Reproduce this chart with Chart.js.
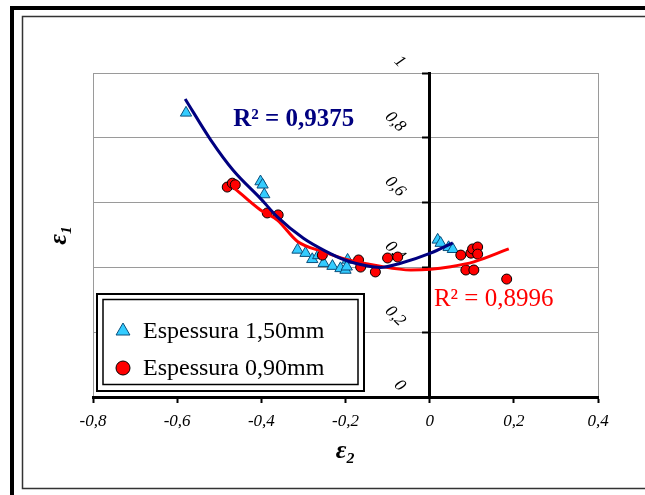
<!DOCTYPE html>
<html>
<head>
<meta charset="utf-8">
<script src="https://cdn.jsdelivr.net/npm/chart.js@4.4.1/dist/chart.umd.min.js"></script>
<style>
  html, body { margin: 0; padding: 0; background: #fff; }
  canvas { display: block; }
</style>
</head>
<body>
<canvas id="c" width="645" height="495"></canvas>
<script>
// Strain measurements: minor strain (ε2) and major strain (ε1) per sheet thickness
const e2Thick150 = [-0.579, -0.402, -0.397, -0.393, -0.314, -0.295, -0.279, -0.265, -0.252, -0.231, -0.212, -0.200, -0.195, -0.197, 0.019, 0.026, 0.045, 0.055];
const e1Thick150 = [ 0.877,  0.665,  0.655,  0.625,  0.454,  0.444,  0.425,  0.437,  0.413,  0.404,  0.397,  0.392,  0.423,  0.402, 0.485, 0.475, 0.462, 0.456];

const e2Thick090 = [-0.481, -0.469, -0.462, -0.386, -0.360, -0.255, -0.169, -0.164, -0.129, -0.100, -0.076, 0.074, 0.098, 0.102, 0.114, 0.114, 0.086, 0.105, 0.183];
const e1Thick090 = [ 0.648,  0.660,  0.655,  0.568,  0.562,  0.438,  0.423,  0.401,  0.386,  0.429,  0.432, 0.438, 0.444, 0.457, 0.463, 0.441, 0.392, 0.392, 0.364];

// Trend curves as drawn on the diagram
const trend150X = [-0.581, -0.520, -0.467, -0.400, -0.362, -0.300, -0.250, -0.200, -0.150, -0.117, -0.069, 0.002, 0.055];
const trend150Y = [ 0.920,  0.793,  0.700,  0.610,  0.556,  0.490,  0.452,  0.422,  0.405,  0.400,  0.413, 0.444, 0.476];
const trend090X = [-0.467, -0.402, -0.362, -0.314, -0.252, -0.200, -0.124, -0.045, 0.002, 0.050, 0.105, 0.188];
const trend090Y = [ 0.648,  0.577,  0.546,  0.480,  0.448,  0.425,  0.405,  0.392, 0.394, 0.402, 0.417, 0.457];

const seriesLabels = ['Espessura 1,50mm', 'Espessura 0,90mm'];
const r2Labels = ['R² = 0,9375', 'R² = 0,8996'];

const xTickValues = [-0.8, -0.6, -0.4, -0.2, 0, 0.2, 0.4];
const xTickLabels = ['-0,8', '-0,6', '-0,4', '-0,2', '0', '0,2', '0,4'];
const yTickValues = [0, 0.2, 0.4, 0.6, 0.8, 1];
const yTickLabels = ['0', '0,2', '0,4', '0,6', '0,8', '1'];

const SERIF = "'Liberation Serif', 'Times New Roman', serif";
const toPts = (xs, ys) => xs.map((x, i) => ({ x: x, y: ys[i] }));
const near = (a, b) => Math.abs(a - b) < 1e-9;

// Outer page frame
const framePlugin = {
  id: 'frame',
  beforeDraw(chart) {
    const ctx = chart.ctx;
    ctx.save();
    ctx.fillStyle = '#fff';
    ctx.fillRect(0, 0, chart.width, chart.height);
    ctx.fillStyle = '#000';
    ctx.fillRect(10, 6, chart.width - 10, 4);
    ctx.fillRect(10, 6, 4, chart.height - 6);
    ctx.strokeStyle = '#333';
    ctx.lineWidth = 1.5;
    ctx.beginPath();
    ctx.moveTo(chart.width, 16.5);
    ctx.lineTo(22.5, 16.5);
    ctx.lineTo(22.5, 488.5);
    ctx.lineTo(chart.width, 488.5);
    ctx.stroke();
    ctx.restore();
  }
};

// Slanted value labels beside the vertical axis at ε2 = 0
const yTickPlugin = {
  id: 'slantedYTicks',
  beforeDatasetsDraw(chart) {
    const ctx = chart.ctx;
    const ys = chart.scales.y;
    const ax = chart.scales.x.getPixelForValue(0);
    ctx.save();
    ctx.font = 'italic 17px ' + SERIF;
    ctx.fillStyle = '#000';
    ctx.textAlign = 'right';
    ctx.textBaseline = 'middle';
    ys.ticks.forEach((t, i) => {
      const py = ys.getPixelForValue(t.value);
      ctx.save();
      ctx.translate(ax - 27, py - 8.5);
      ctx.rotate(45 * Math.PI / 180);
      ctx.fillText(yTickLabels[i], 0, 0);
      ctx.restore();
    });
    ctx.restore();
  }
};

// Coefficient of determination labels
const r2Plugin = {
  id: 'r2Labels',
  afterDatasetsDraw(chart) {
    const ctx = chart.ctx;
    const xs = chart.scales.x, ys = chart.scales.y;
    ctx.save();
    ctx.textAlign = 'left';
    ctx.textBaseline = 'middle';
    ctx.font = 'bold 25px ' + SERIF;
    ctx.fillStyle = '#000080';
    ctx.fillText(r2Labels[0], xs.getPixelForValue(-0.467), ys.getPixelForValue(0.855));
    ctx.font = '25px ' + SERIF;
    ctx.fillStyle = '#FF0000';
    ctx.fillText(r2Labels[1], xs.getPixelForValue(0.01), ys.getPixelForValue(0.30));
    ctx.restore();
  }
};

// Boxed legend in the lower-left corner of the plot
const boxLegendPlugin = {
  id: 'boxLegend',
  afterDraw(chart) {
    const ctx = chart.ctx;
    const area = chart.chartArea;
    const bx = area.left + 4, by = area.bottom - 103, bw = 267, bh = 97;
    ctx.save();
    ctx.fillStyle = '#fff';
    ctx.fillRect(bx, by, bw, bh);
    ctx.strokeStyle = '#000';
    ctx.lineWidth = 2;
    ctx.strokeRect(bx, by, bw, bh);
    ctx.lineWidth = 1.5;
    ctx.strokeRect(bx + 6, by + 5.5, bw - 12, bh - 12);
    const items = chart.data.datasets.filter(d => d.inLegend);
    items.forEach((ds, i) => {
      const cy = by + 37 + i * 37;
      ctx.fillStyle = ds.backgroundColor;
      ctx.strokeStyle = ds.borderColor;
      ctx.lineWidth = 1;
      Chart.helpers.drawPoint(ctx, { pointStyle: ds.pointStyle, radius: ds.legendRadius, borderWidth: 1, rotation: 0 }, bx + 26, cy);
      ctx.fillStyle = '#000';
      ctx.font = '24px ' + SERIF;
      ctx.textAlign = 'left';
      ctx.textBaseline = 'middle';
      ctx.fillText(ds.label, bx + 46, cy + 1);
    });
    ctx.restore();
  }
};

new Chart(document.getElementById('c'), {
  type: 'scatter',
  data: {
    datasets: [
      {
        label: seriesLabels[0],
        data: toPts(e2Thick150, e1Thick150),
        pointStyle: 'triangle',
        pointRadius: 6.5,
        legendRadius: 8,
        backgroundColor: '#33CCFF',
        borderColor: '#0B4F7C',
        borderWidth: 1,
        inLegend: true,
        order: 3
      },
      {
        label: seriesLabels[1],
        data: toPts(e2Thick090, e1Thick090),
        pointStyle: 'circle',
        pointRadius: 5,
        legendRadius: 7,
        backgroundColor: '#FF0000',
        borderColor: '#000000',
        borderWidth: 1,
        inLegend: true,
        order: 2
      },
      {
        label: 'Tendência 1,50mm',
        data: toPts(trend150X, trend150Y),
        showLine: true,
        pointRadius: 0,
        borderColor: '#000080',
        backgroundColor: '#000080',
        borderWidth: 3,
        cubicInterpolationMode: 'monotone',
        order: 0
      },
      {
        label: 'Tendência 0,90mm',
        data: toPts(trend090X, trend090Y),
        showLine: true,
        pointRadius: 0,
        borderColor: '#FF0000',
        backgroundColor: '#FF0000',
        borderWidth: 3,
        cubicInterpolationMode: 'monotone',
        order: 1
      }
    ]
  },
  options: {
    responsive: false,
    animation: false,
    events: [],
    layout: { padding: { left: 0, right: 47, top: 73, bottom: 0 } },
    plugins: {
      legend: { display: false },
      tooltip: { enabled: false }
    },
    scales: {
      x: {
        type: 'linear',
        min: -0.8,
        max: 0.4,
        afterBuildTicks: s => { s.ticks = xTickValues.map(v => ({ value: v })); },
        ticks: {
          callback: (v, i) => xTickLabels[i],
          font: { family: SERIF, size: 17, style: 'italic' },
          color: '#000',
          padding: 8,
          maxRotation: 0,
          autoSkip: false
        },
        grid: {
          color: c => (near(c.tick.value, -0.8) || near(c.tick.value, 0.4)) ? '#9a9a9a' : 'rgba(0,0,0,0)',
          lineWidth: 1,
          drawTicks: true,
          tickLength: 6,
          tickColor: '#000',
          tickWidth: 2
        },
        border: { display: true, color: '#000', width: 3 },
        title: {
          display: true,
          text: 'ε₂',
          color: '#000',
          font: { family: SERIF, size: 26, weight: 'bold', style: 'italic' },
          padding: { top: 0, bottom: 28 }
        },
        afterFit: s => { s.height = 98; }
      },
      y: {
        type: 'linear',
        min: 0,
        max: 1,
        position: { x: 0 },
        afterBuildTicks: s => { s.ticks = yTickValues.map(v => ({ value: v })); },
        ticks: { display: false },
        grid: {
          color: '#9a9a9a',
          lineWidth: 1,
          drawTicks: true,
          tickLength: 6,
          tickColor: '#000',
          tickWidth: 2
        },
        border: { display: true, color: '#000', width: 3 },
        afterFit: s => { s.width = 0; }
      },
      yt: {
        type: 'linear',
        position: 'left',
        min: 0,
        max: 1,
        ticks: { display: false },
        grid: { display: false },
        border: { display: false },
        title: {
          display: true,
          text: 'ε₁',
          color: '#000',
          font: { family: SERIF, size: 26, weight: 'bold', style: 'italic' },
          padding: { top: 44, bottom: 0 }
        },
        afterFit: s => { s.width = 93; }
      }
    }
  },
  plugins: [framePlugin, yTickPlugin, r2Plugin, boxLegendPlugin]
});
</script>
</body>
</html>
